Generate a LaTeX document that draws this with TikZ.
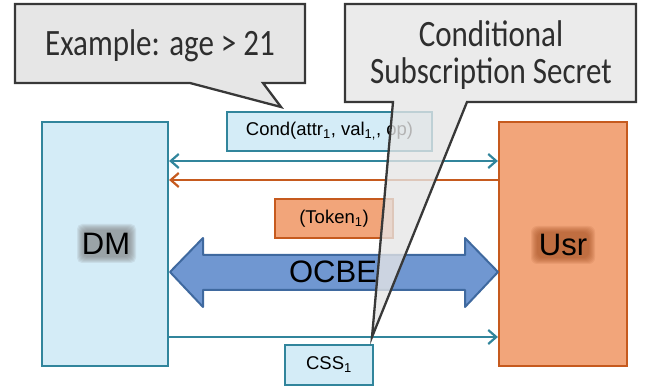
\documentclass[tikz,border=0pt]{standalone}
\usepackage{fontspec}
\setmainfont{Liberation Sans}
\newfontfamily\callfont{Carlito}
\usetikzlibrary{arrows.meta}
\definecolor{tealc}{HTML}{31859C}
\definecolor{lightb}{HTML}{D4ECF7}
\definecolor{orangef}{HTML}{F2A57A}
\definecolor{oranged}{HTML}{C65A1E}
\definecolor{ocbef}{HTML}{7097D1}
\definecolor{ocbed}{HTML}{3F699F}
\definecolor{callf}{HTML}{E6E6E6}
\definecolor{calld}{HTML}{383838}
\definecolor{calltx}{HTML}{2E2E2E}
\tikzset{
  bluebox/.style={draw=tealc, fill=lightb, line width=2.2pt, inner sep=0pt},
  orangebox/.style={draw=oranged, fill=orangef, line width=2.2pt, inner sep=0pt},
  lbl/.style={font=\fontsize{18.5}{20}\selectfont},
  big/.style={font=\fontsize{31}{34}\selectfont},
  tealline/.style={draw=tealc, line width=2.2pt},
  orangeline/.style={draw=oranged, line width=2.2pt},
  barb/.tip={Straight Barb[length=8pt,width=14pt]},
  callout/.style={draw=calld, fill=callf, line width=2.3pt, line join=miter},
  calltext/.style={font=\callfont\fontsize{31}{32}\selectfont, text=calltx, align=center, inner sep=0pt}
}
\begin{document}
\begin{tikzpicture}[x=1pt,y=-1pt]
\useasboundingbox (0,0) rectangle (649,387);
% main boxes
\node[bluebox, minimum width=126pt, minimum height=244pt] (DM) at (105,244) {};
\node[orangebox, minimum width=128pt, minimum height=244pt] (Usr) at (563,244) {};
% glows
\foreach \i in {0,...,6}
  \fill[gray, opacity=0.14, rounded corners=5pt] (77+\i,224+\i) rectangle (136-\i,263-\i);
\foreach \i in {0,...,6}
  \fill[oranged!80!black, opacity=0.11, rounded corners=6pt] (531+\i,226+\i) rectangle (595-\i,264-\i);
\node[big] (dmlabel) at (106,244) {DM};
\node[big] (usrlabel) at (563,245) {Usr};
% helper coordinates
\coordinate (y1) at (0,161);
\coordinate (y2) at (0,180);
\coordinate (y3) at (0,337);
% connectors
\draw[tealline, barb-barb] (DM.east |- y1) -- (Usr.west |- y1);
\draw[orangeline, -barb] (Usr.west |- y2) -- (DM.east |- y2);
\draw[tealline, -barb] (DM.east |- y3) -- (Usr.west |- y3);
% message boxes
\node[bluebox, lbl, minimum width=205pt, minimum height=39pt] (cond) at (329.5,131.5)
  {Cond(attr\textsubscript{1}, val\textsubscript{1,}, op)};
\node[orangebox, lbl, minimum width=118pt, minimum height=39pt] (token) at (334,218.5)
  {(Token\textsubscript{1})};
\node[bluebox, lbl, minimum width=88pt, minimum height=40pt] (css) at (329,365)
  {CSS\textsubscript{1}};
% OCBE double arrow
\filldraw[fill=ocbef, draw=ocbed, line width=2pt, line join=round]
  (170,272) -- (203,238) -- (203,255) -- (465,255) -- (465,238) -- (498,272)
  -- (465,307) -- (465,290) -- (203,290) -- (203,307) -- cycle;
\node[big] (ocbe) at (333,272) {OCBE};
% callout 1
\draw[callout] (15,4) -- (305,4) -- (305,83) -- (263,83) -- (281,107) -- (190,83) -- (15,83) -- cycle;
\node[calltext] (ex) at (160,46) {\scalebox{1}[1.2]{Example: age > 21}};
% callout 2
\draw[callout, fill opacity=0.78] (345,4) -- (636,4) -- (636,102) -- (467,102) -- (372,337) -- (393,102) -- (345,102) -- cycle;
\node[calltext] (cssnote) at (491,55) {\scalebox{1}[1.2]{Conditional}\\[5pt]\scalebox{1}[1.2]{Subscription Secret}};
\end{tikzpicture}
\end{document}
